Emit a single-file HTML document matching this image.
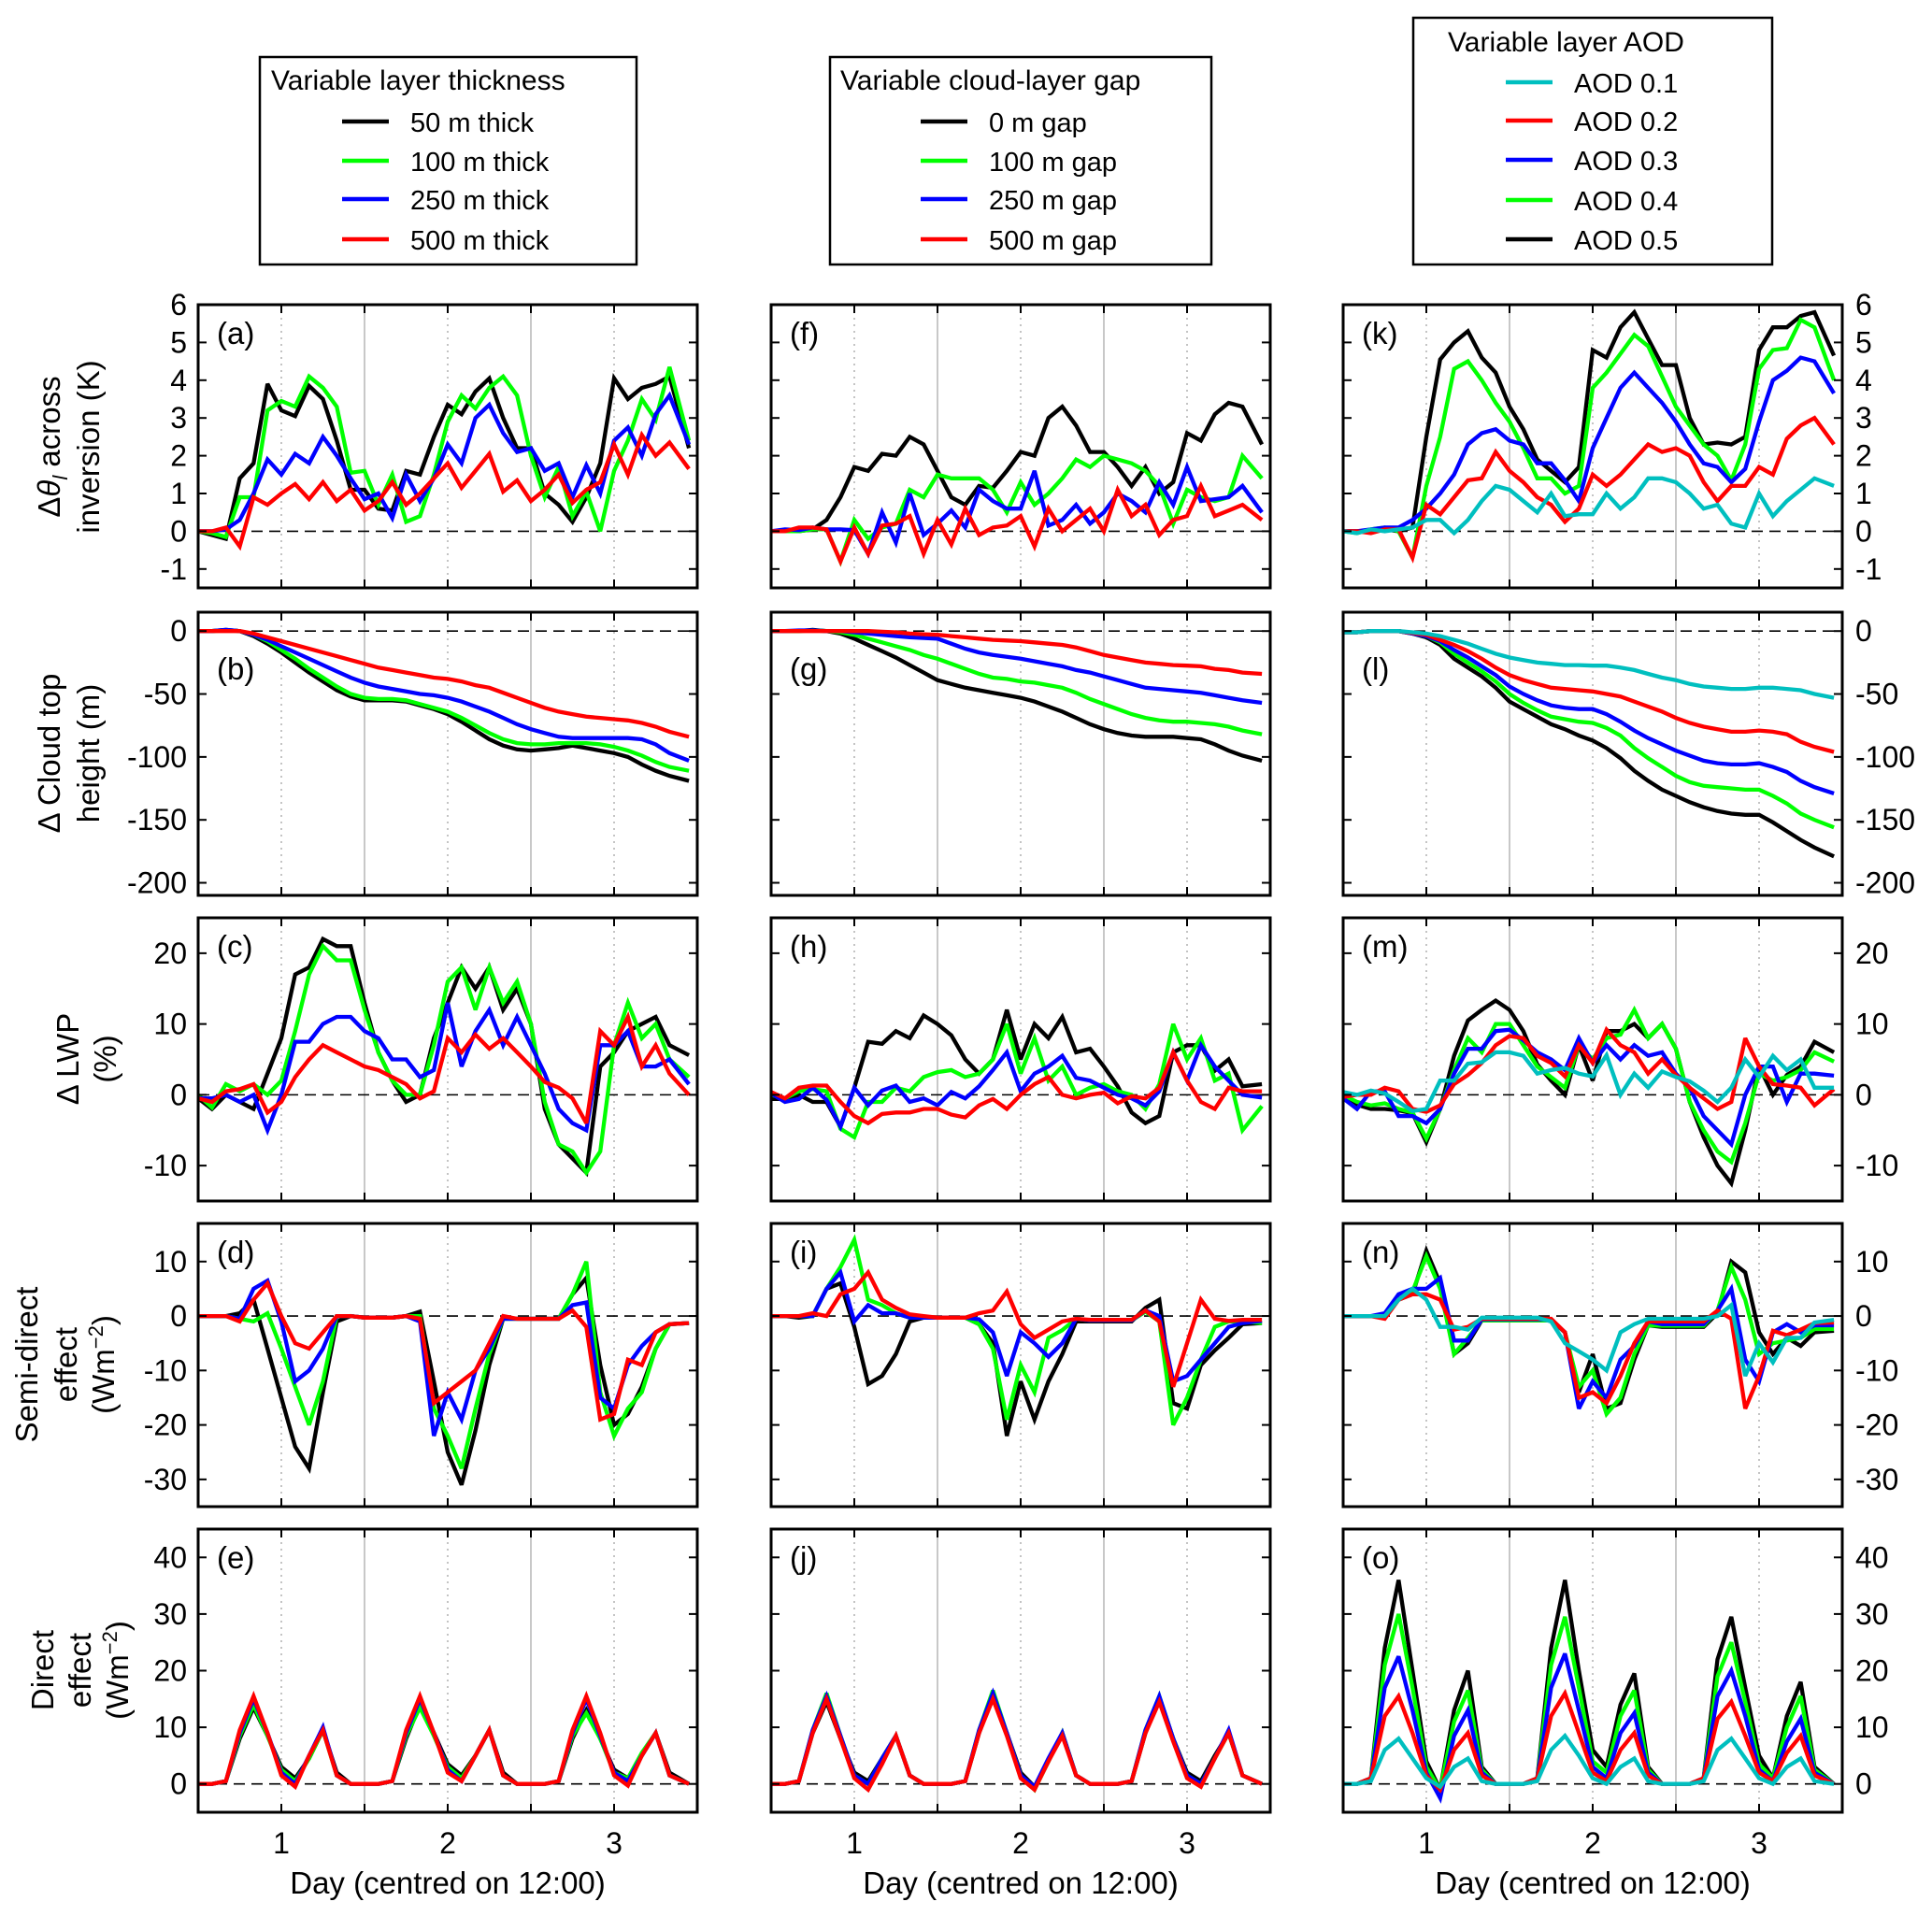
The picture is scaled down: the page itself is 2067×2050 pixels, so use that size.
<!DOCTYPE html>
<html><head><meta charset="utf-8">
<style>
html,body{margin:0;padding:0;background:#fff;}
svg{display:block;font-family:"Liberation Sans",Arial,sans-serif;}
</style></head>
<body>
<svg id="fig" width="2067" height="2050" viewBox="0 0 2067 2050" xmlns="http://www.w3.org/2000/svg">
<rect width="2067" height="2050" fill="#fff"/>
<!-- Legends -->
<g>
<rect x="278" y="61" width="403" height="222" fill="#fff" stroke="#000" stroke-width="2.5"/>
<text x="290" y="96" font-size="30">Variable layer thickness</text>
<line x1="366" y1="130" x2="416" y2="130" stroke="#000" stroke-width="4.5"/><text x="439" y="141" font-size="29">50 m thick</text>
<line x1="366" y1="172" x2="416" y2="172" stroke="#00ff00" stroke-width="4.5"/><text x="439" y="183" font-size="29">100 m thick</text>
<line x1="366" y1="213" x2="416" y2="213" stroke="#0000ff" stroke-width="4.5"/><text x="439" y="224" font-size="29">250 m thick</text>
<line x1="366" y1="256" x2="416" y2="256" stroke="#ff0000" stroke-width="4.5"/><text x="439" y="267" font-size="29">500 m thick</text>
</g>
<g>
<rect x="888" y="61" width="408" height="222" fill="#fff" stroke="#000" stroke-width="2.5"/>
<text x="899" y="96" font-size="30">Variable cloud-layer gap</text>
<line x1="985" y1="130" x2="1035" y2="130" stroke="#000" stroke-width="4.5"/><text x="1058" y="141" font-size="29">0 m gap</text>
<line x1="985" y1="172" x2="1035" y2="172" stroke="#00ff00" stroke-width="4.5"/><text x="1058" y="183" font-size="29">100 m gap</text>
<line x1="985" y1="213" x2="1035" y2="213" stroke="#0000ff" stroke-width="4.5"/><text x="1058" y="224" font-size="29">250 m gap</text>
<line x1="985" y1="256" x2="1035" y2="256" stroke="#ff0000" stroke-width="4.5"/><text x="1058" y="267" font-size="29">500 m gap</text>
</g>
<g>
<rect x="1512" y="19" width="384" height="264" fill="#fff" stroke="#000" stroke-width="2.5"/>
<text x="1549" y="55" font-size="30">Variable layer AOD</text>
<line x1="1611" y1="88" x2="1661" y2="88" stroke="#00bfbf" stroke-width="4.5"/><text x="1684" y="99" font-size="29">AOD 0.1</text>
<line x1="1611" y1="129" x2="1661" y2="129" stroke="#ff0000" stroke-width="4.5"/><text x="1684" y="140" font-size="29">AOD 0.2</text>
<line x1="1611" y1="171" x2="1661" y2="171" stroke="#0000ff" stroke-width="4.5"/><text x="1684" y="182" font-size="29">AOD 0.3</text>
<line x1="1611" y1="214" x2="1661" y2="214" stroke="#00ff00" stroke-width="4.5"/><text x="1684" y="225" font-size="29">AOD 0.4</text>
<line x1="1611" y1="256" x2="1661" y2="256" stroke="#000" stroke-width="4.5"/><text x="1684" y="267" font-size="29">AOD 0.5</text>
</g>
<!-- Y axis titles -->
<g font-size="33" text-anchor="middle">
<text transform="translate(64,478) rotate(-90)"><tspan>Δ</tspan><tspan font-style="italic">θ</tspan><tspan font-style="italic" font-size="22" dy="8">l</tspan><tspan dy="-8"> across</tspan></text>
<text transform="translate(106,478) rotate(-90)">inversion (K)</text>
</g>
<g font-size="33" text-anchor="middle">
<text transform="translate(64,806) rotate(-90)">Δ Cloud top</text>
<text transform="translate(106,806) rotate(-90)">height (m)</text>
</g>
<g font-size="33" text-anchor="middle">
<text transform="translate(84,1133) rotate(-90)">Δ LWP</text>
<text transform="translate(124,1133) rotate(-90)">(%)</text>
</g>
<g font-size="33" text-anchor="middle">
<text transform="translate(40,1460) rotate(-90)">Semi-direct</text>
<text transform="translate(82,1460) rotate(-90)">effect</text>
<text transform="translate(122,1460) rotate(-90)">(Wm<tspan font-size="22" dy="-12">−2</tspan><tspan dy="12">)</tspan></text>
</g>
<g font-size="33" text-anchor="middle">
<text transform="translate(57,1787) rotate(-90)">Direct</text>
<text transform="translate(97,1787) rotate(-90)">effect</text>
<text transform="translate(137,1787) rotate(-90)">(Wm<tspan font-size="22" dy="-12">−2</tspan><tspan dy="12">)</tspan></text>
</g>
<g id="panels"></g>
</svg>
<script>
// ---- shared x data ----
const days=[0.5,0.583,0.667,0.75,0.833,0.917,1.0,1.083,1.167,1.25,1.333,1.417,1.5,1.583,1.667,1.75,1.833,1.917,2.0,2.083,2.167,2.25,2.333,2.417,2.5,2.583,2.667,2.75,2.833,2.917,3.0,3.083,3.167,3.25,3.333,3.45];
const xTicks=[1,2,3];
// ---- y tick labels per row ----
const yTicksA=[-1,0,1,2,3,4,5,6];
const yTicksB=[0,-50,-100,-150,-200];
const yTicksC=[-10,0,10,20];
const yTicksD=[10,0,-10,-20,-30];
const yTicksE=[0,10,20,30,40];
// ---- panel (a) ----
const a_black=[0,-0.1,-0.2,1.4,1.8,3.9,3.2,3.05,3.85,3.5,2.4,1.1,1.1,0.6,0.55,1.6,1.5,2.5,3.35,3.1,3.7,4.05,3.0,2.2,2.2,1.0,0.7,0.25,0.9,1.8,4.05,3.5,3.8,3.9,4.1,2.2];
const a_green=[0,-0.05,-0.15,0.9,0.9,3.2,3.45,3.3,4.1,3.8,3.3,1.55,1.6,0.7,1.5,0.25,0.4,1.5,2.9,3.6,3.25,3.8,4.1,3.6,2.0,0.9,1.7,0.4,1.05,0.0,1.6,2.4,3.5,2.95,4.35,2.4];
const a_blue=[0,0,0.05,0.3,1.0,1.9,1.5,2.05,1.8,2.5,2.0,1.4,0.85,1.0,0.35,1.5,0.8,1.4,2.3,1.8,3.0,3.35,2.6,2.1,2.2,1.6,1.8,0.9,1.75,1.0,2.4,2.75,2.0,3.1,3.6,2.3];
const a_red=[0,0,0.1,-0.4,0.9,0.7,1.0,1.25,0.85,1.3,0.8,1.1,0.55,0.8,1.3,0.7,1.0,1.4,1.8,1.15,1.6,2.05,1.05,1.35,0.8,1.1,1.5,0.75,1.1,1.3,2.3,1.5,2.55,2.0,2.35,1.65];
// ---- panel (b) ----
const b_black=[0,0,1,0,-4,-10,-17,-25,-33,-40,-47,-52,-55,-55,-55,-56,-59,-62,-66,-72,-79,-86,-91,-94,-95,-94,-93,-91,-93,-95,-97,-100,-106,-111,-115,-119];
const b_green=[0,0,0.5,0,-3,-8,-15,-22,-30,-37,-44,-50,-53,-54,-54,-55,-58,-61,-64,-69,-75,-81,-86,-89,-90,-90,-89,-89,-89,-90,-92,-95,-99,-104,-108,-111];
const b_blue=[0,0,1,0,-3,-7,-12,-17,-22,-27,-32,-37,-41,-44,-46,-48,-50,-51,-53,-56,-60,-64,-69,-74,-78,-81,-84,-85,-85,-85,-85,-85,-86,-90,-97,-103];
const b_red=[0,0,0,0,-2,-5,-8,-11,-14,-17,-20,-23,-26,-29,-31,-33,-35,-37,-38,-40,-43,-45,-49,-53,-57,-61,-64,-66,-68,-69,-70,-71,-73,-76,-80,-84];
// ---- panel (c) ----
const c_black=[-0.5,-2,0,-1,-2,3,8,17,18,22,21,21,13,6,2,-1,0,8,13,18,15,18,12,15,10,-2,-7,-9,-11,4,6,9,10,11,7,5.6];
const c_green=[0,-1.8,1.5,0.5,1.5,0,2,9,17,21,19,19,12,6,2,0,0,7,16,18,12,18,13,16,10,-1,-7,-8,-11,-8,7,13,8,10,5,2.5];
const c_blue=[-0.5,-0.5,0,-1,0,-5,0,7.5,7.5,10,11,11,9,8,5,5,2.5,3.5,13,4,9,12,7,11,7,3,-2,-4,-5,7,7,9,4,4,5,1.5];
const c_red=[-0.5,-1,0.5,0.8,1.5,-2.5,-1,2.5,5,7,6,5,4,3.5,2.5,1.5,-0.5,0.5,8,6,8.5,6.5,8,6,4,1.8,1,-0.5,-4,9,7,11,4,7,3,0];
// ---- panel (d) ----
const d_black=[0,0,0,0.5,3,-6,-15,-24,-28,-14,-1,0,-0.3,-0.3,-0.3,0,0.8,-12,-25,-31,-21,-9,-0.5,-0.5,-0.5,-0.5,-0.5,4,7,-9,-20,-18,-13,-6,-1.5,-1.3];
const d_green=[0,0,0,-0.5,-1,0.5,-6,-13,-20,-12,0,0,-0.3,-0.3,-0.3,0,0,-17,-22,-28,-17,-7,-0.5,-0.5,-0.5,-0.5,-0.5,4,10,-14,-22,-17,-14,-6,-1.5,-1.3];
const d_blue=[0,0,0,-0.5,5,6.5,-1,-12,-10,-6,0,0,-0.3,-0.3,-0.3,0,-1,-22,-14,-19,-10,-6,-0.5,-0.5,-0.5,-0.5,-0.5,2,2.5,-15,-17,-9,-5.5,-3,-1.5,-1.3];
const d_red=[0,0,0,-1,3,6,0,-5,-6,-3,0,0,-0.3,-0.3,-0.3,0,-0.5,-16,-14,-12,-10,-5,0,-0.5,-0.5,-0.5,-0.5,1,-2,-19,-18,-8,-9,-3,-1.5,-1.3];
// ---- panel (e) ----
const e_black=[0,0,0.5,8,13.5,8.5,3,1,4.5,9.5,2,0, 0,0,0.5,8,14,9,3.5,1.5,5,9.5,2,0, 0,0,0.5,8,13,8,2.5,1,5,9,2,0];
const e_green=[0,0,0.5,8.5,14,8.5,2.5,0.5,4.5,9.5,1.5,0, 0,0,0.5,8.5,13.5,8.5,3,1,5,9.5,1.5,0, 0,0,0.5,8.5,12.5,8,2,1,5.5,9,1.5,0];
const e_blue=[0,0,0.5,9,15,9,2,0,5,10,1.5,0, 0,0,0.5,9,15,9,2.5,0.5,5,9.5,1.5,0, 0,0,0.5,9,15,8.5,2,0.5,5,9,1.5,0];
const e_red=[0,0,0.5,9.5,15.5,9,1.5,-0.5,5,9.5,1.5,0, 0,0,0.5,9.5,15.5,9,2,0.5,5,9.5,1.5,0, 0,0,0.5,9.5,15.5,9,1.5,-0.3,5,9,1.5,0];
// ---- panel (f) ----
const f_black=[0,0,0,0.05,0.3,0.9,1.7,1.6,2.05,2.0,2.5,2.3,1.6,0.9,0.7,1.2,1.15,1.6,2.1,2.0,3.0,3.3,2.8,2.1,2.1,1.7,1.2,1.7,1.0,1.3,2.6,2.4,3.1,3.4,3.3,2.3];
const f_green=[0,0,0,0.05,0.05,-0.8,0.3,-0.2,0.1,0.2,1.1,0.9,1.5,1.4,1.4,1.4,1.1,0.5,1.3,0.7,1.0,1.4,1.9,1.7,2.0,1.9,1.8,1.6,1.2,0.2,1.1,0.9,0.8,0.9,2.0,1.4];
const f_blue=[0,0.05,0.03,0.1,0.05,0.05,0.03,-0.6,0.5,-0.3,1.0,-0.1,0.2,0.55,0.1,1.1,0.8,0.6,0.6,1.6,0.15,0.3,0.7,0.2,0.5,1.0,0.8,0.5,1.3,0.7,1.7,0.8,0.85,0.9,1.2,0.5];
const f_red=[0,0,0.1,0.1,0.05,-0.8,0.1,-0.6,0.15,0.2,0.4,-0.6,0.3,-0.35,0.6,-0.1,0.1,0.15,0.4,-0.4,0.6,0.0,0.3,0.6,0.0,1.1,0.4,0.7,-0.1,0.3,0.4,1.2,0.4,0.55,0.7,0.3];
// ---- panel (g) ----
const g_black=[0,0,0,1,0,-2,-6,-11,-16,-21,-27,-33,-39,-42,-45,-47,-49,-51,-53,-56,-60,-64,-69,-74,-78,-81,-83,-84,-84,-84,-85,-86,-90,-95,-99,-103];
const g_green=[0,0,0,0.5,0,-1,-3,-6,-9,-12,-15,-19,-22,-26,-30,-34,-37,-38,-40,-41,-43,-45,-49,-54,-58,-62,-66,-69,-71,-72,-72,-73,-74,-76,-79,-82];
const g_blue=[0,0,0.5,0.5,0,0,-1,-2,-3,-4,-5,-5.5,-6,-10,-14,-17,-19,-20.5,-22,-24,-26,-28,-31,-33,-36,-39,-42,-45,-46,-47,-48,-49,-51,-53,-55,-57];
const g_red=[0,0,0,0,0,0,0,0,-0.5,-1,-2,-2.5,-3,-4,-5,-6,-7,-7.5,-8,-9,-10,-11,-13,-16,-19,-21,-23,-25,-26,-27,-27.5,-28,-30,-31,-33,-34];
// ---- panel (h) ----
const h_black=[-0.6,-0.6,0,-1,-1,-4.5,1,7.5,7.2,9,8,11.2,10,8.4,5,3,5,12,5,10,8,11,6,6.5,4,1.2,-2.5,-4,-3,6,7,7,3.4,5,1.2,1.5];
const h_green=[0,-0.5,0.5,0.8,0.5,-4.8,-6,-1,-1,1,0.5,2.5,3.2,3.5,2.5,3,5,10,3,8,2,4,0,1,1.5,0.5,0,-2,1.5,10,5,8,2,3,-5,-1.6];
const h_blue=[0.2,-1,-0.6,1,-0.7,-4.5,1,-1.5,0.6,1.3,-1,-0.5,-1.5,0.4,-0.5,1.2,3.5,6,0.5,3,4,5.5,2.4,2,1,0,-0.5,-1.5,0.5,6,2,7,4,2,0,-0.4];
const h_red=[0.4,-0.5,1,1.3,1.3,-1,-3,-4,-2.7,-2.5,-2.5,-2,-2,-2.8,-3.2,-1.5,-0.6,-2,0,1.5,2.5,0,-0.5,0,0.3,-1.2,-0.2,-0.5,1,6,2,-1,-2,1,0.5,0.5];
// ---- panel (i) ----
const i_black=[0,0,-0.3,0,5,6,-2,-12.5,-11,-7,-1,-0.3,-0.3,-0.3,-0.3,-1.5,-5,-22,-12,-19,-12,-7,-1,-1,-1,-1,-1,1.5,3,-16,-17,-9,-6.3,-4,-1.5,-1.3];
const i_green=[0,0,0,0,5,9,14,3,2,0.5,-0.3,-0.3,-0.3,-0.3,-0.3,-1.5,-6,-19,-9,-14,-4,-2.6,-0.5,-0.8,-0.8,-0.8,-0.8,0.8,-1,-20,-15,-8,-2,-1,-1,-1.3];
const i_blue=[0,0,0,0,5,8,-1,2,0.5,0.5,-0.3,-0.3,-0.3,-0.3,-0.3,-0.6,-3,-11,-3,-5,-7.5,-5,-0.5,-0.8,-0.8,-0.8,-0.8,1,0,-12,-11,-8,-5,-2,-1.3,-0.9];
const i_red=[0,0,0,0.5,0,4,5,8,3,1.5,0.3,0,-0.3,-0.3,-0.3,0.5,1,4.5,-1.5,-4,-2.5,-1,-0.5,-0.7,-0.7,-0.7,-0.7,1,-1,-13,-5,3,-0.5,-0.9,-0.7,-0.7];
// ---- panel (j) ----
const j_black=[0,0,0.5,9,14.5,8,2,0.5,4.5,8.5,1.5,0, 0,0,0.5,9,15.5,9,2,-0.5,4,9,1.5,0, 0,0,0.5,9,15,8,2,0.5,5,9,1.5,0];
const j_green=[0,0,0.5,9.5,16,8.5,1.5,0,4.5,8.5,1.5,0, 0,0,0.5,9.5,16.5,9,1.5,-1,4,9,1.5,0, 0,0,0.5,9.5,15.5,8,1.5,0,4.5,9,1.5,0];
const j_blue=[0,0,0.5,9.5,15.5,8.5,1.5,0,4.5,8.5,1.5,0, 0,0,0.5,9.5,16,9,1.5,-0.5,4.5,9,1.5,0, 0,0,0.5,9.5,15.5,8,1.5,0,4.5,9.5,1.5,0];
const j_red=[0,0,0.5,9,15,8,1,-1,3.5,8.5,1.5,0, 0,0,0.5,9,15,8.5,1,-1,4,8.5,1.5,0, 0,0,0.5,9,14.5,7.5,1,-0.5,4.5,9,1.5,0];
// ---- panel (k) ----
const k_black=[0,0,0,0.05,0,0.1,2.5,4.55,5,5.3,4.6,4.2,3.3,2.7,1.9,1.6,1.3,1.7,4.8,4.6,5.4,5.8,5.1,4.4,4.4,3.0,2.3,2.35,2.3,2.5,4.8,5.4,5.4,5.7,5.8,4.65];
const k_green=[0,-0.05,0.05,0.1,0,-0.7,1.2,2.5,4.3,4.5,4.0,3.4,2.9,2.2,1.4,1.4,1.0,1.2,3.8,4.2,4.7,5.2,4.9,4.1,3.3,2.8,2.3,2.0,1.35,2.3,4.3,4.8,4.85,5.6,5.4,4.0];
const k_blue=[0,0,0.05,0.1,0.1,0.3,0.6,1.0,1.5,2.3,2.6,2.7,2.4,2.3,1.8,1.8,1.35,0.8,2.2,3.0,3.8,4.2,3.8,3.4,2.9,2.3,1.8,1.7,1.3,1.65,2.9,4.0,4.25,4.6,4.5,3.65];
const k_red=[0,0,-0.05,0.05,0.05,-0.7,0.7,0.45,0.9,1.35,1.4,2.1,1.6,1.3,0.9,0.7,0.25,0.6,1.5,1.2,1.5,1.9,2.3,2.1,2.2,2.0,1.3,0.8,1.2,1.2,1.7,1.5,2.45,2.8,3.0,2.3];
const k_cyan=[0,-0.05,0.05,0,0.05,0.1,0.3,0.3,-0.05,0.3,0.8,1.2,1.1,0.8,0.5,1.0,0.4,0.45,0.45,1.0,0.6,0.9,1.4,1.4,1.3,1.0,0.6,0.7,0.2,0.1,1.0,0.4,0.8,1.1,1.4,1.2];
// ---- panel (l) ----
const l_black=[-1,-1,0,0,0,-2,-5,-11,-22,-29,-36,-45,-56,-62,-68,-74,-78,-83,-87,-93,-101,-111,-119,-126,-131,-136,-140,-143,-145,-146,-146,-152,-159,-166,-172,-179];
const l_green=[-1,-1,0,0,0,-2,-4,-9,-18,-25,-32,-40,-50,-57,-63,-68,-70,-72,-73,-77,-83,-93,-101,-108,-115,-120,-123,-124,-125,-126,-126,-131,-137,-145,-150,-156];
const l_blue=[-1,-1,0,0,0,-2,-4,-8,-15,-21,-28,-35,-44,-50,-55,-59,-61,-62,-62,-66,-72,-79,-85,-90,-95,-99,-103,-105,-106,-106,-105,-108,-112,-119,-124,-129];
const l_red=[-1,-1,0,0,0,-1.5,-3,-7,-11,-16,-22,-29,-35,-39,-42,-45,-46,-47,-48,-50,-52,-56,-60,-64,-69,-73,-76,-78,-80,-80,-79,-80,-82,-88,-92,-96];
const l_cyan=[-1,-1,0,0,0,-1,-2,-4,-7,-10,-14,-18,-21,-23,-25,-26,-27,-27,-27.5,-27.5,-29,-31,-34,-37,-39,-42,-44,-45,-46,-46,-45,-45,-46,-47,-50,-53];
// ---- panel (m) ----
const m_black=[-0.6,-1.4,-2,-2,-2.2,-2.6,-6.7,-2,5.5,10.5,12,13.3,12,9,4.3,2,0,7,2,9,9,10,8,10,6.5,-1,-6,-10,-12.5,-5,4,0,2.8,4,7.5,6];
const m_green=[0,-1,-1.5,-1.2,-2,-2.5,-6.2,-2,3.5,8,6,10,10,7,4,2.5,1,7,5,8,8.5,12,8,10,6.5,-1,-5,-8,-9.5,-4,3,2,2.5,3.5,6,4.7];
const m_blue=[-0.5,-2,0.5,0.5,-3,-3,-4,-2,3,6.5,6.5,9,9.2,7.7,6,5,3.5,8,4.5,7,5,7,5.5,6,3,1,-3,-5,-7,0,4,4,-1,3,3,2.7];
const m_red=[-0.3,0,0,1,0.5,-2,-2.4,-1.5,1.5,2.8,4.5,7,8.3,8,5.5,4.5,2.6,7,4.5,9.2,7,6,3,5,2.8,1,-0.5,-2,-1,8,4,1.5,1.3,1,-1.5,0.8];
const m_cyan=[0.4,0,0.6,0.2,-1,-2.3,-2,2,2,4.4,4.6,6,6,5.5,3,3.5,3.8,3,2.6,5.6,0,3,1,3.3,2.5,1.9,0.6,-1,1,5,2.5,5.5,3.5,5,1,1];
// ---- panel (n) ----
const n_black=[0,0,0,0,3,4,12,6,-7,-5,-0.8,-0.8,-0.8,-0.8,-0.8,-0.8,-3,-14,-7,-17,-16,-8,-1.7,-2,-2,-2,-2,0.5,10,8,-3,-7,-4,-5.5,-3,-2.7];
const n_green=[0,0,0,0,3,4.5,11,5,-7,-4,-0.8,-0.8,-0.8,-0.8,-0.8,-0.8,-3,-13,-10,-18,-15,-7,-1.7,-1.8,-1.8,-1.8,-1.8,1,9,3,-7,-5,-4.5,-4,-2.4,-2.4];
const n_blue=[0,0,0,0.5,4,5,5,7,-4.5,-4.5,-0.6,-0.6,-0.6,-0.6,-0.6,-0.6,-3,-17,-12,-15,-8,-5.5,-1,-1.5,-1.5,-1.5,-1.5,1,5,-8,-12,-3,-1.5,-3,-1.7,-1.7];
const n_red=[0,0,0,-0.5,3,4,4,3,-2.5,-2,-0.5,-0.5,-0.5,-0.5,-0.5,-0.5,-3,-15,-14,-16,-11,-5,-1,-1,-1,-1,-1,1,-0.5,-17,-11,-2.7,-3.5,-2.5,-1.3,-1.2];
const n_cyan=[0,0,0,0,3,5,3,-2,-2,-2.5,-0.3,-0.3,-0.3,-0.3,-0.3,-1,-5,-6.5,-8,-10,-3,-1.5,-0.5,-0.5,-0.5,-0.5,-0.5,0,2,-11,-5,-8.5,-4,-4,-1.2,-0.7];
// ---- panel (o) ----
const o_black=[0,0,1,24,36,20,4,-1,13,20,3,0, 0,0,1,24,36,20,6,3,14,19.5,3,0, 0,0,1,22,29.5,17,5,1,12,18,3,0];
const o_green=[0,0,1,21,30,17,3,-1,11,16.5,2.5,0, 0,0,1,21,29.5,17,4,2,12,16.5,2.5,0, 0,0,1,19,25,14.5,3.5,1,10,15.5,2.5,0];
const o_blue=[0,0,1,17,22.5,13,2,-2.5,8.5,13,2,0, 0,0,1,17,23,13,3,1,9,12.5,2,0, 0,0,1,15.5,20,12,2.5,0.5,7.5,11.5,2,0];
const o_red=[0,0,1,12,15.5,9,1.5,-1,6,9,1.5,0, 0,0,1,12,16,9,2,0.5,6,9,1.5,0, 0,0,1,11.5,14.5,8.5,2,0.5,5.5,8.5,1.5,0];
const o_cyan=[0,0,0.5,6,8,4.5,1,-0.5,3,4.5,0.5,0, 0,0,0.5,6,8.5,5,1,0,3,4.5,0.5,0, 0,0,0.5,6,8,4.5,1,0,3,4.5,0.5,0];

// ---- layout (not data) ----
const NS="http://www.w3.org/2000/svg";
const colX=[212,825,1437], PW=534;
const rowY=[326,655,982,1309,1636], PH=303;
const rowRange=[[-1.5,6],[-210,15],[-15,25],[-35,17],[-5,45]];
const rowTicks=[yTicksA,yTicksB,yTicksC,yTicksD,yTicksE];
const labelOffset=[42,72,42,42,42];
const C={k:"#000000",g:"#00ff00",b:"#0000ff",r:"#ff0000",c:"#00bfbf"};
const panels=[
 {l:"a",c:0,r:0,s:[[a_black,"k","black"],[a_green,"g","green"],[a_blue,"b","blue"],[a_red,"r","red"]]},
 {l:"b",c:0,r:1,s:[[b_black,"k","black"],[b_green,"g","green"],[b_blue,"b","blue"],[b_red,"r","red"]]},
 {l:"c",c:0,r:2,s:[[c_black,"k","black"],[c_green,"g","green"],[c_blue,"b","blue"],[c_red,"r","red"]]},
 {l:"d",c:0,r:3,s:[[d_black,"k","black"],[d_green,"g","green"],[d_blue,"b","blue"],[d_red,"r","red"]]},
 {l:"e",c:0,r:4,s:[[e_black,"k","black"],[e_green,"g","green"],[e_blue,"b","blue"],[e_red,"r","red"]]},
 {l:"f",c:1,r:0,s:[[f_black,"k","black"],[f_green,"g","green"],[f_blue,"b","blue"],[f_red,"r","red"]]},
 {l:"g",c:1,r:1,s:[[g_black,"k","black"],[g_green,"g","green"],[g_blue,"b","blue"],[g_red,"r","red"]]},
 {l:"h",c:1,r:2,s:[[h_black,"k","black"],[h_green,"g","green"],[h_blue,"b","blue"],[h_red,"r","red"]]},
 {l:"i",c:1,r:3,s:[[i_black,"k","black"],[i_green,"g","green"],[i_blue,"b","blue"],[i_red,"r","red"]]},
 {l:"j",c:1,r:4,s:[[j_black,"k","black"],[j_green,"g","green"],[j_blue,"b","blue"],[j_red,"r","red"]]},
 {l:"k",c:2,r:0,s:[[k_black,"k","black"],[k_green,"g","green"],[k_blue,"b","blue"],[k_red,"r","red"],[k_cyan,"c","cyan"]]},
 {l:"l",c:2,r:1,s:[[l_black,"k","black"],[l_green,"g","green"],[l_blue,"b","blue"],[l_red,"r","red"],[l_cyan,"c","cyan"]]},
 {l:"m",c:2,r:2,s:[[m_black,"k","black"],[m_green,"g","green"],[m_blue,"b","blue"],[m_red,"r","red"],[m_cyan,"c","cyan"]]},
 {l:"n",c:2,r:3,s:[[n_black,"k","black"],[n_green,"g","green"],[n_blue,"b","blue"],[n_red,"r","red"],[n_cyan,"c","cyan"]]},
 {l:"o",c:2,r:4,s:[[o_black,"k","black"],[o_green,"g","green"],[o_blue,"b","blue"],[o_red,"r","red"],[o_cyan,"c","cyan"]]}
];
function xs(col,d){return colX[col]+(d-0.5)/3*PW;}
function ys(row,v){const r=rowRange[row];return rowY[row]+(r[1]-v)/(r[1]-r[0])*PH;}
function mk(tag,attrs,parent){const e=document.createElementNS(NS,tag);for(const k in attrs)e.setAttribute(k,attrs[k]);parent.appendChild(e);return e;}
const root=document.getElementById("panels");
panels.forEach(p=>{
  const g=mk("g",{},root);
  
  
  const x0=colX[p.c], y0=rowY[p.r], x1=x0+PW, y1=y0+PH;
  [1.5,2.5].forEach(d=>{const ln=mk("line",{x1:xs(p.c,d),x2:xs(p.c,d),y1:y0,y2:y1,stroke:"#c8c8c8","stroke-width":2},g);
    
    });
  xTicks.forEach(d=>{const ln=mk("line",{x1:xs(p.c,d),x2:xs(p.c,d),y1:y0,y2:y1,stroke:"#b0b0b0","stroke-width":1.5,"stroke-dasharray":"2,5"},g);
    
    });
  const z=mk("line",{x1:x0,x2:x1,y1:ys(p.r,0),y2:ys(p.r,0),stroke:"#000","stroke-width":1.6,"stroke-dasharray":"12,7"},g);
  
  
  p.s.forEach(s=>{
    const arr=s[0];
    const pts=arr.map((v,i)=>xs(p.c,days[i]).toFixed(1)+","+ys(p.r,v).toFixed(1)).join(" ");
    const pl=mk("polyline",{points:pts,fill:"none",stroke:C[s[1]],"stroke-width":4.3,"stroke-linejoin":"miter","stroke-miterlimit":3},g);
    
    
  });
  [1,1.5,2,2.5,3].forEach(d=>{
    mk("line",{x1:xs(p.c,d),x2:xs(p.c,d),y1:y1,y2:y1-9,stroke:"#000","stroke-width":2},g);
    mk("line",{x1:xs(p.c,d),x2:xs(p.c,d),y1:y0,y2:y0+9,stroke:"#000","stroke-width":2},g);
  });
  rowTicks[p.r].forEach(v=>{
    const y=ys(p.r,v);
    mk("line",{x1:x0,x2:x0+9,y1:y,y2:y,stroke:"#000","stroke-width":2},g);
    mk("line",{x1:x1,x2:x1-9,y1:y,y2:y,stroke:"#000","stroke-width":2},g);
    if(p.c===0||p.c===2){
      const t=mk("text",{x:p.c===0?x0-12:x1+14,y:y+11,"font-size":32,"text-anchor":p.c===0?"end":"start"},g);
      t.textContent=String(v);
      
      
    }
  });
  const fr=mk("rect",{x:x0,y:y0,width:PW,height:PH,fill:"none",stroke:"#000","stroke-width":3},g);
  
  
  const lab=mk("text",{x:x0+20,y:y0+labelOffset[p.r],"font-size":33},g);
  lab.textContent="("+p.l+")";
  
  
  if(p.r===4){
    xTicks.forEach(d=>{
      const t=mk("text",{x:xs(p.c,d),y:y1+44,"font-size":32,"text-anchor":"middle"},g);
      t.textContent=String(d);
      
      
    });
    const xl=mk("text",{x:x0+PW/2,y:y1+87,"font-size":33,"text-anchor":"middle"},g);
    xl.textContent="Day (centred on 12:00)";
    
    
  }
});
</script>
</body></html>
